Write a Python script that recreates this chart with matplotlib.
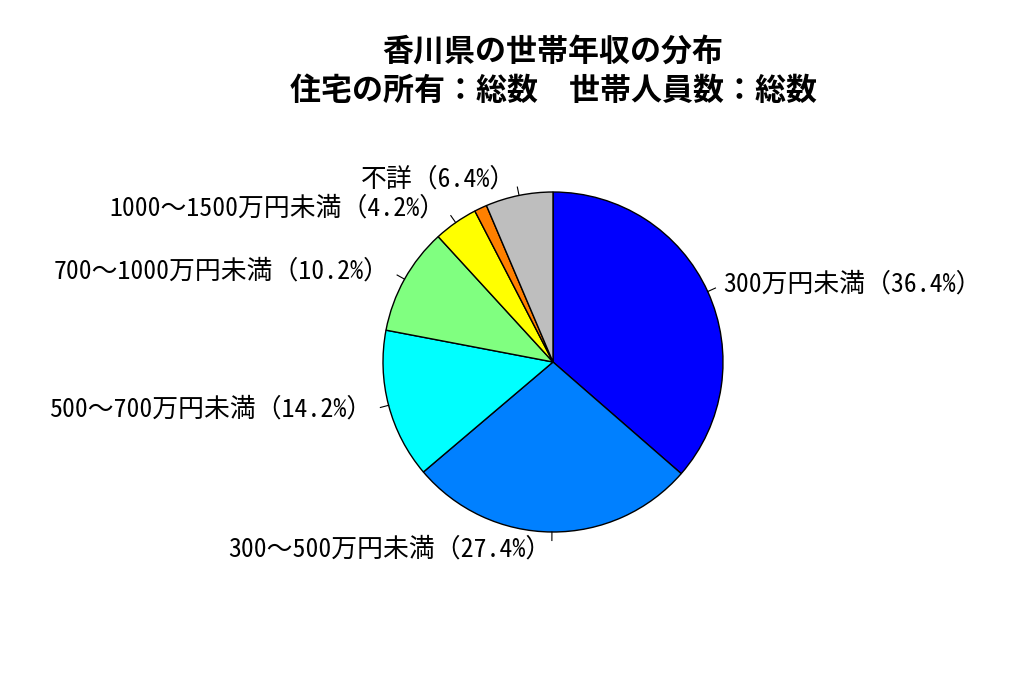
import numpy as np
import matplotlib
matplotlib.use("Agg")
import matplotlib.pyplot as plt

plt.rcParams['font.family'] = ['Noto Sans Mono CJK JP', 'Noto Sans CJK JP', 'DejaVu Sans']

TITLE = "香川県の世帯年収の分布\n住宅の所有：総数　世帯人員数：総数"
labels = ["300万円未満", "300～500万円未満", "500～700万円未満", "700～1000万円未満",
          "1000～1500万円未満", "", "不詳"]
values = [36.4, 27.4, 14.2, 10.2, 4.2, 1.2, 6.4]
colors = ["#0000FF", "#0080FF", "#00FFFF", "#80FF80", "#FFFF00", "#FF8000", "#BEBEBE"]

W, H = 1024, 683
CX, CY, R = 553, 362, 170  # pixel centre and radius of the pie

fig = plt.figure(figsize=(W / 100, H / 100), dpi=100)
half_w, half_h = 460, 320
ax = fig.add_axes([(CX - half_w) / W, (H - CY - half_h) / H, 2 * half_w / W, 2 * half_h / H])
ax.axis("off")

wedges, _ = ax.pie(values, colors=colors, startangle=90, counterclock=False, radius=1,
                   wedgeprops=dict(edgecolor="black", linewidth=1.0))
ax.set_xlim(-half_w / R, half_w / R)
ax.set_ylim(-half_h / R, half_h / R)

total = sum(values)
start = 90.0
for lab, v in zip(labels, values):
    mid = np.deg2rad(start - v / total * 360 / 2)
    start -= v / total * 360
    if not lab:
        continue
    x, y = np.cos(mid), np.sin(mid)
    ax.plot([x, 1.05 * x], [y, 1.05 * y], color="black", linewidth=0.8)
    ax.text(1.1 * x, 1.1 * y, f"{lab}（{v:.1f}%）", ha="left" if x >= 0 else "right",
            va="center", fontsize=18.6)

fig.text(CX / W, 1 - 71 / H, TITLE, ha="center", va="center", fontsize=22.3,
         fontweight="bold", linespacing=1.38)

fig.savefig("out.png", dpi=100)
